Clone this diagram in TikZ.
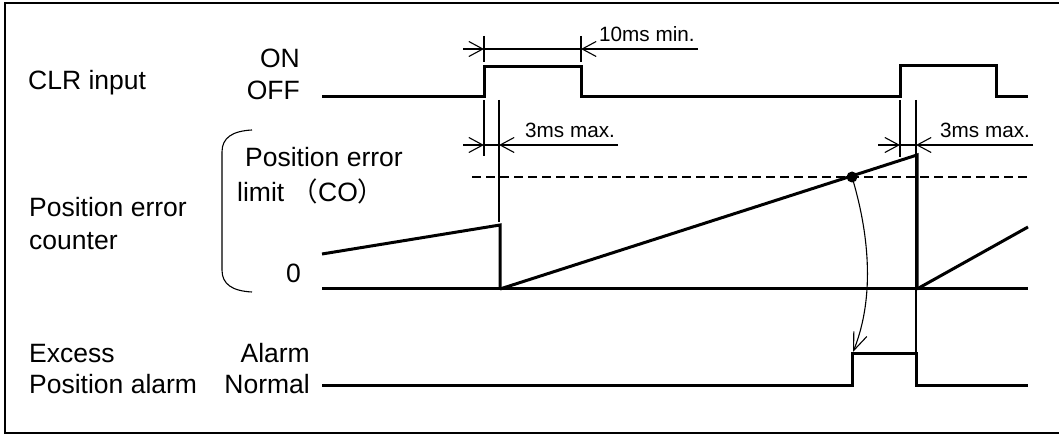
\documentclass[tikz,border=0pt]{standalone}
\usepackage{fontspec}
\setmainfont{Liberation Sans}
\newfontfamily\cjk{Noto Sans CJK SC}
\usetikzlibrary{arrows.meta}
\tikzset{
  sig/.style={line width=3pt, line join=miter},
  thinline/.style={line width=1.1pt},
  dimtip/.style={thinline, -{Straight Barb[length=14pt,width=15pt]}},
  bigtxt/.style={inner sep=0pt, font=\fontsize{26.5}{30}\selectfont},
  smalltxt/.style={inner sep=0pt, font=\fontsize{20.7}{24}\selectfont},
  frame/.style={line width=2.5pt},
}
\begin{document}
\begin{tikzpicture}[x=1pt,y=-1pt]
\useasboundingbox (0,0) rectangle (1059,435);
% frame (top, left, bottom)
\draw[frame] (1059,3) -- (5,3) -- (5,433) -- (1059,433);

% left labels
\node[bigtxt, anchor=base west] (clr) at (28,90) {CLR input};
\node[bigtxt, anchor=base east] (on) at (300,68) {ON};
\node[bigtxt, anchor=base east] (off) at (300,100) {OFF};
\node[bigtxt, anchor=base west] (pec1) at (29,217) {Position error};
\node[bigtxt, anchor=base west] (pec2) at (29,250) {counter};
\node[bigtxt, anchor=base west] (pel1) at (245,167) {Position error};
\node[bigtxt, anchor=base west] (pel2) at (237,202) {limit {\cjk （}CO{\cjk ）}};
\node[bigtxt, anchor=base west] (zero) at (286,283) {0};
\node[bigtxt, anchor=base west] (exc1) at (29,362) {Excess};
\node[bigtxt, anchor=base west] (exc2) at (29,393) {Position alarm};
\node[bigtxt, anchor=base east] (alarm) at (310,362) {Alarm};
\node[bigtxt, anchor=base east] (normal) at (310,393) {Normal};

% bracket
\draw[thinline] (252,130) .. controls (232,131) and (222,138) .. (222,152) -- (222,270)
  .. controls (222,284) and (232,291) .. (252,292);

% CLR signal
\draw[sig] (322,97) -- (484,97) -- (484,67) -- (581,67) -- (581,97) -- (900,97)
  -- (900,66) -- (996,66) -- (996,97) -- (1028,97);

% position error counter
\draw[sig] (322,254) -- (500,225) -- (500,289);
\draw[sig] (322,289) -- (1028,289);
\draw[sig] (500,289) -- (917,155) -- (917,289);
\draw[sig] (917,289) -- (1028,227);
\draw[thinline, line width=1.4pt, dash pattern=on 9pt off 5pt] (472,177) -- (1028,177);
\coordinate (hit) at (852,177);
\fill (hit) circle (5.5);

% excess position alarm
\draw[sig] (322,385) -- (852,385) -- (852,353) -- (916,353) -- (916,385) -- (1028,385);
\coordinate (alarmup) at (853,352);
\draw[thinline, -{Straight Barb[length=18pt,width=14pt]}] (hit) .. controls (868,230) and (876,295) .. (alarmup);

% extension lines
\draw[thinline] (484,36) -- (484,62);
\draw[thinline] (581,36) -- (581,62);
\draw[thinline] (484,100) -- (484,156);
\draw[thinline] (499,100) -- (499,222);
\draw[thinline] (900,100) -- (900,157);
\draw[thinline] (916,100) -- (916,353);

% 10ms min.
\draw[dimtip] (463,49) -- (484,49);
\draw[thinline] (484,49) -- (581,49);
\draw[dimtip] (698,49) -- (581,49);
\node[smalltxt, anchor=base west] (t10) at (599,42) {10ms min.};

% 3ms max. (first)
\draw[dimtip] (463,145) -- (484,145);
\draw[thinline] (484,145) -- (499,145);
\draw[dimtip] (618,145) -- (499,145);
\node[smalltxt, anchor=base west] (t3a) at (525,138) {3ms max.};

% 3ms max. (second)
\draw[dimtip] (878,145) -- (900,145);
\draw[thinline] (900,145) -- (916,145);
\draw[dimtip] (1033,145) -- (916,145);
\node[smalltxt, anchor=base west] (t3b) at (940,138) {3ms max.};
\end{tikzpicture}
\end{document}
